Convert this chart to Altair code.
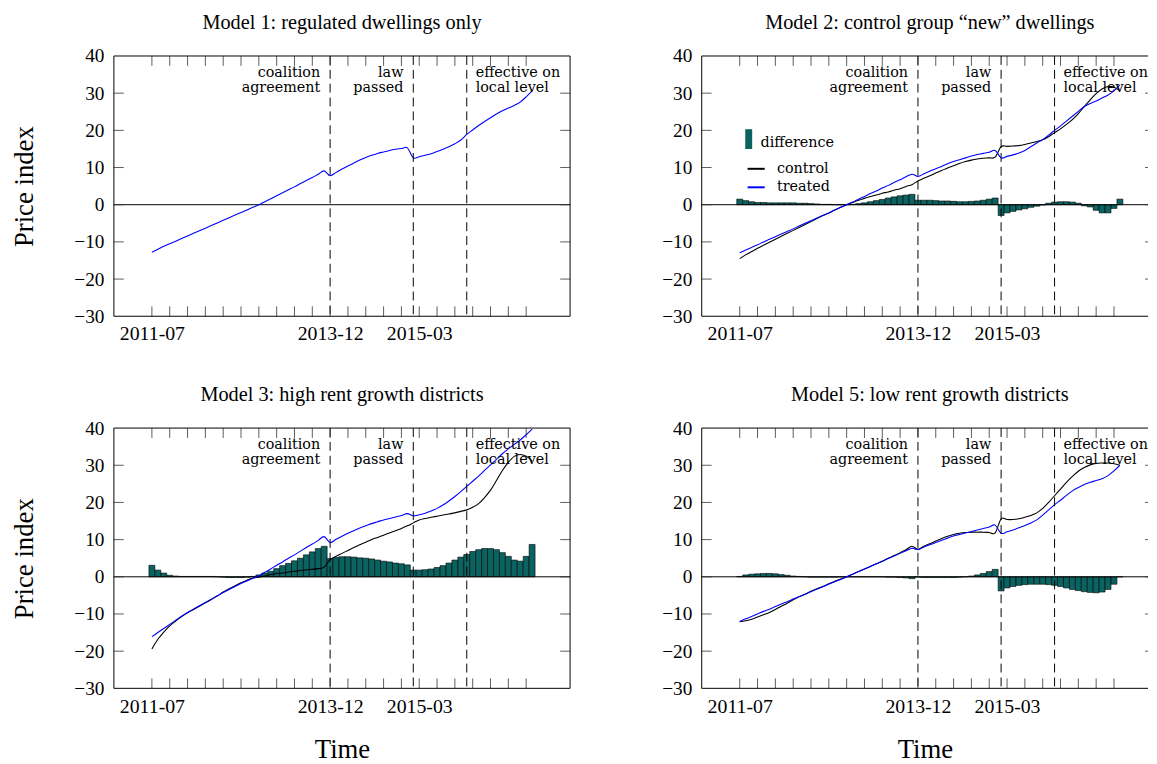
import altair as alt
import pandas as pd

# -----------------------------------------------------------------------------
# DATA (read off the figure, one value per month, month 0 = first observation)
# -----------------------------------------------------------------------------

months = list(range(65))

# Model 1: regulated dwellings only
m1_treated = [-12.8, -12.0, -11.2, -10.5, -9.8, -9.1, -8.4, -7.7, -7.0, -6.3,
              -5.6, -4.9, -4.2, -3.5, -2.8, -2.1, -1.4, -0.7, 0.0, 0.8,
              1.6, 2.4, 3.2, 4.0, 4.8, 5.7, 6.5, 7.3, 8.2, 9.1,
              7.8, 8.7, 9.6, 10.4, 11.2, 12.0, 12.7, 13.3, 13.8, 14.2,
              14.6, 14.9, 15.1, 15.3, 12.6, 12.9, 13.3, 13.7, 14.3, 14.9,
              15.6, 16.4, 17.4, 18.9, 20.1, 21.3, 22.4, 23.4, 24.4, 25.3,
              26.0, 26.7, 27.6, 29.0, 30.6]

# Model 2: control group "new" dwellings
m2_treated = [-12.9, -12.2, -11.5, -10.8, -10.0, -9.3, -8.6, -7.9, -7.2, -6.5,
              -5.7, -5.0, -4.3, -3.6, -2.9, -2.2, -1.4, -0.7, 0.0, 0.7,
              1.5, 2.2, 3.0, 3.7, 4.5, 5.2, 6.0, 6.7, 7.5, 8.2,
              7.6, 8.3, 9.0, 9.7, 10.3, 11.0, 11.6, 12.1, 12.6, 13.1,
              13.5, 13.8, 14.1, 14.6, 12.6, 13.0, 13.4, 13.9, 14.6, 15.6,
              16.6, 17.5, 18.7, 20.0, 21.2, 22.5, 23.8, 25.1, 26.4, 27.2,
              27.9, 28.7, 29.5, 30.6, 32.2]
m2_control = [-14.5, -13.5, -12.6, -11.7, -10.9, -10.1, -9.3, -8.5, -7.7, -6.9,
              -6.1, -5.3, -4.5, -3.7, -2.9, -2.2, -1.4, -0.7, 0.0, 0.6,
              1.2, 1.7, 2.2, 2.6, 3.1, 3.4, 3.9, 4.3, 4.9, 5.4,
              6.4, 7.1, 7.8, 8.5, 9.2, 9.9, 10.5, 11.1, 11.6, 12.0,
              12.3, 12.5, 12.6, 12.8, 15.6, 15.7, 15.8, 15.9, 16.2, 16.6,
              17.0, 17.5, 18.3, 19.4, 20.4, 21.6, 22.9, 24.5, 26.4, 28.2,
              29.9, 31.1, 31.8, 31.6, 30.7]
m2_diff = [1.5, 1.1, 0.8, 0.6, 0.6, 0.5, 0.5, 0.5, 0.5, 0.5,
           0.4, 0.4, 0.3, 0.2, 0.1, 0.1, 0.0, 0.0, 0.0, 0.1,
           0.3, 0.5, 0.8, 1.1, 1.4, 1.8, 2.1, 2.4, 2.6, 2.8,
           1.2, 1.2, 1.2, 1.1, 1.0, 1.0, 0.9, 0.8, 0.8, 0.9,
           1.0, 1.2, 1.5, 1.8, -2.9, -2.2, -1.8, -1.4, -1.1, -0.7,
           -0.4, -0.1, 0.4, 0.7, 0.8, 0.8, 0.7, 0.4, -0.3, -0.6,
           -1.5, -2.2, -2.2, -1.0, 1.5]

# Model 3: high rent growth districts
m3_treated = [-16.1, -15.0, -13.9, -12.8, -11.7, -10.6, -9.6, -8.7, -7.8, -6.9,
              -6.0, -5.1, -4.2, -3.4, -2.6, -1.8, -1.1, -0.4, 0.3, 1.2,
              2.1, 3.1, 4.0, 5.0, 5.9, 6.9, 7.9, 8.8, 9.8, 10.8,
              9.2, 10.1, 10.9, 11.7, 12.4, 13.1, 13.7, 14.3, 14.8, 15.3,
              15.7, 16.1, 16.5, 17.0, 16.4, 16.7, 17.1, 17.7, 18.4, 19.3,
              20.4, 21.6, 22.9, 24.3, 25.7, 27.1, 28.6, 30.1, 31.6, 33.1,
              34.4, 35.6, 36.8, 38.2, 39.7]
m3_control = [-19.4, -16.8, -14.9, -13.2, -11.9, -10.7, -9.7, -8.8, -7.9, -7.0,
              -6.1, -5.2, -4.1, -3.2, -2.4, -1.6, -0.9, -0.3, -0.1, 0.2,
              0.6, 0.9, 1.0, 1.3, 1.5, 1.7, 1.9, 2.0, 2.2, 2.6,
              4.6, 5.5, 6.3, 7.1, 7.9, 8.6, 9.3, 10.0, 10.6, 11.2,
              11.8, 12.4, 13.0, 13.7, 14.5, 15.3, 15.7, 16.0, 16.3, 16.6,
              16.9, 17.2, 17.6, 18.0, 18.7, 19.7, 21.3, 23.3, 25.9, 28.6,
              30.8, 32.4, 32.9, 32.4, 31.2]
m3_diff = [3.1, 1.8, 1.0, 0.4, 0.2, 0.1, 0.1, 0.1, 0.1, 0.1,
           0.1, 0.0, -0.1, -0.2, -0.2, -0.2, -0.1, 0.1, 0.5, 1.0,
           1.5, 2.2, 3.0, 3.6, 4.3, 5.0, 5.9, 6.7, 7.6, 8.2,
           4.9, 5.2, 5.4, 5.4, 5.3, 5.1, 5.0, 4.8, 4.5, 4.2,
           4.0, 3.7, 3.5, 3.2, 1.8, 1.8, 1.9, 2.1, 2.5, 3.0,
           3.7, 4.5, 5.3, 6.0, 6.8, 7.3, 7.6, 7.6, 7.3, 6.5,
           5.5, 4.5, 4.2, 5.5, 8.7]

# Model 5: low rent growth districts
m5_treated = [-12.0, -11.3, -10.7, -10.0, -9.3, -8.7, -8.0, -7.3, -6.7, -6.0,
              -5.3, -4.7, -4.0, -3.3, -2.7, -2.0, -1.3, -0.7, 0.0, 0.7,
              1.4, 2.1, 2.8, 3.5, 4.2, 4.9, 5.6, 6.3, 7.0, 7.7,
              7.3, 8.0, 8.6, 9.2, 9.8, 10.4, 11.0, 11.4, 11.8, 12.2,
              12.6, 13.0, 13.4, 13.9, 11.7, 12.1, 12.6, 13.2, 13.8, 14.5,
              15.3, 16.6, 18.0, 19.4, 20.6, 21.9, 23.1, 24.0, 24.8, 25.4,
              25.9, 26.4, 27.2, 28.5, 30.0]
m5_control = [-12.1, -11.8, -11.4, -10.8, -10.2, -9.6, -8.8, -7.9, -7.1, -6.2,
              -5.4, -4.7, -3.9, -3.2, -2.6, -1.9, -1.2, -0.6, 0.0, 0.7,
              1.4, 2.1, 2.8, 3.5, 4.2, 5.0, 5.7, 6.5, 7.3, 8.2,
              7.4, 8.2, 8.9, 9.6, 10.3, 10.9, 11.4, 11.7, 11.9, 12.0,
              12.0, 12.0, 11.9, 11.8, 15.6, 15.4, 15.4, 15.6, 16.0, 16.5,
              17.2, 18.4, 20.0, 21.8, 23.6, 25.4, 27.0, 28.4, 29.4, 30.1,
              30.5, 30.6, 30.6, 30.4, 30.0]
m5_diff = [0.1, 0.5, 0.7, 0.8, 0.9, 0.9, 0.8, 0.6, 0.4, 0.2,
           0.1, 0.0, -0.1, -0.1, -0.1, -0.1, -0.1, 0.0, 0.0, 0.0,
           0.0, 0.0, 0.0, 0.0, 0.0, -0.1, -0.1, -0.2, -0.3, -0.5,
           -0.1, -0.2, -0.2, -0.2, -0.2, -0.2, -0.2, -0.1, 0.0, 0.2,
           0.5, 0.9, 1.4, 2.0, -3.8, -3.0, -2.6, -2.3, -2.1, -2.0,
           -2.0, -2.0, -2.1, -2.3, -2.6, -3.0, -3.4, -3.7, -4.0, -4.2,
           -4.3, -4.1, -3.4, -2.0, 0.0]

# events (dashed lines) and their annotations
event_months = [30, 44, 53]
event_labels = ["coalition\nagreement", "law\npassed", "effective on\nlocal level"]
event_sides = ["right", "right", "left"]

# axis ticks
x_tick_values = [0, 30, 45]
x_tick_labels = ["2011-07", "2013-12", "2015-03"]
minor_tick_months = [0, 3, 6, 9, 12, 15, 18, 21, 24, 27, 30, 33, 36, 39, 42,
                     45, 48, 51, 54, 57, 60, 63]
y_tick_values = [-30, -20, -10, 0, 10, 20, 30, 40]
y_inner_ticks = [-20, -10, 0, 10, 20, 30]

# -----------------------------------------------------------------------------
# STYLE
# -----------------------------------------------------------------------------

W, H = 461, 263          # full panel
W_CUT = 451              # right-hand panels run off the page edge
PX_PER_MONTH = 6.003
X_MIN = -6.4
TEAL = "#0a6360"
SERIF = "Liberation Serif"
SMALL = "DejaVu Serif"
TICK_LEN = 10

y_scale = alt.Scale(domain=[-30, 40], nice=False, zero=False)

label_expr = " : ".join(
    f"datum.value == {v} ? '{t}'" for v, t in zip(x_tick_values, x_tick_labels)
) + " : ''"

one_row = pd.DataFrame({"k": [0]})


def make_panel(title, treated, control=None, diff=None, legend=False,
               y_title=None, x_title=None, cut=False):
    width = W_CUT if cut else W
    x_scale = alt.Scale(domain=[X_MIN, X_MIN + width / PX_PER_MONTH],
                        nice=False, zero=False)
    x_axis = alt.Axis(values=x_tick_values, labelExpr=label_expr, ticks=False,
                      tickSize=0, domain=False, grid=False, labelPadding=8,
                      labelFlush=False, labelOverlap=False, labelFont=SERIF,
                      labelFontSize=20, labelColor="black", titleFont=SERIF,
                      titleFontSize=27, titleFontWeight="normal",
                      titleColor="black", titlePadding=21)
    y_axis = alt.Axis(values=y_tick_values, ticks=False, tickSize=0,
                      domain=False, grid=False, labelPadding=10,
                      labelOverlap=False, labelFont=SERIF, labelFontSize=19.5,
                      labelColor="black", minExtent=46, maxExtent=46,
                      titleFont=SERIF, titleFontSize=27,
                      titleFontWeight="normal", titleColor="black",
                      titlePadding=30)

    def X(field):
        return alt.X(f"{field}:Q", scale=x_scale, axis=x_axis, title=x_title)

    def Y(field):
        return alt.Y(f"{field}:Q", scale=y_scale, axis=y_axis, title=y_title)

    layers = []

    # difference bars
    if diff is not None:
        bar_df = pd.DataFrame({"m": months, "d": diff, "series": "difference"})
        fill_legend = None
        if legend:
            fill_legend = alt.Legend(orient="none", legendX=37.5, legendY=78,
                                     title=None, padding=0,
                                     symbolType="M-0.35,-1.4H0.35V0.6H-0.35Z",
                                     symbolSize=400, symbolStrokeWidth=0,
                                     labelFont=SMALL, labelFontSize=14.5,
                                     labelColor="black", labelOffset=2)
        bars = alt.Chart(bar_df).mark_bar(stroke="black", strokeWidth=0.6).encode(
            x=X("x0"),
            x2="x1:Q",
            y=Y("d"),
            y2=alt.datum(0),
            fill=alt.Fill("series:N",
                          scale=alt.Scale(domain=["difference"], range=[TEAL]),
                          legend=fill_legend),
        ).transform_calculate(x0="datum.m - 0.5", x1="datum.m + 0.5")
        layers.append(bars)

    # zero line
    zero = alt.Chart(pd.DataFrame({"v": [0]})).mark_rule(
        color="black", strokeWidth=1).encode(y=Y("v"))
    layers.append(zero)

    # price index lines
    series = []
    if control is not None:
        series.append(("control", control))
    series.append(("treated", treated))
    line_df = pd.DataFrame([{"m": m, "v": v, "series": name}
                            for name, vals in series
                            for m, v in zip(months, vals)])
    color_legend = None
    if legend:
        color_legend = alt.Legend(orient="none", legendX=45, legendY=104,
                                  title=None, padding=0, symbolType="stroke",
                                  symbolSize=300, symbolStrokeWidth=2,
                                  labelFont=SMALL, labelFontSize=14.5,
                                  labelColor="black", labelOffset=11,
                                  rowPadding=1.7)
    lines = alt.Chart(line_df).mark_line(strokeWidth=1.1, interpolate="cardinal").encode(
        x=X("m"),
        y=Y("v"),
        color=alt.Color("series:N",
                        scale=alt.Scale(domain=["control", "treated"],
                                        range=["black", "blue"]),
                        legend=color_legend),
    )
    layers.append(lines)

    # event lines and labels
    ev_df = pd.DataFrame({"m": event_months, "label": event_labels, "side": event_sides})
    layers.append(alt.Chart(ev_df).mark_rule(
        color="black", strokeWidth=1, strokeDash=[9, 5]).encode(x=X("m")))
    for side, dx in (("right", -10), ("left", 9)):
        layers.append(
            alt.Chart(ev_df[ev_df["side"] == side]).mark_text(
                align=side, dx=dx, baseline="alphabetic", lineBreak="\n",
                lineHeight=15.5, font=SMALL, fontSize=14.5, color="black"
            ).encode(x=X("m"), y=alt.value(21), text="label:N")
        )

    # inward ticks (only their stubs show on the cut-off right edge)
    tick_df = pd.DataFrame({"m": minor_tick_months})
    ytick_df = pd.DataFrame({"v": y_inner_ticks})
    tick_style = dict(color="#333333", strokeWidth=0.8)
    right_len = 3 if cut else TICK_LEN
    layers.append(alt.Chart(tick_df).mark_rule(**tick_style).encode(
        x=X("m"), y=alt.value(0), y2=alt.value(TICK_LEN)))
    layers.append(alt.Chart(tick_df).mark_rule(**tick_style).encode(
        x=X("m"), y=alt.value(H - TICK_LEN), y2=alt.value(H)))
    layers.append(alt.Chart(ytick_df).mark_rule(**tick_style).encode(
        y=Y("v"), x=alt.value(0), x2=alt.value(TICK_LEN)))
    layers.append(alt.Chart(ytick_df).mark_rule(**tick_style).encode(
        y=Y("v"), x=alt.value(width - right_len), x2=alt.value(width)))

    # frame (the right-hand panels are cut by the page edge, so no right side)
    frame = dict(color="black", strokeWidth=1)
    layers.append(alt.Chart(one_row).mark_rule(**frame).encode(
        x=alt.value(0), x2=alt.value(width), y=alt.value(0)))
    layers.append(alt.Chart(one_row).mark_rule(**frame).encode(
        x=alt.value(0), x2=alt.value(width), y=alt.value(H)))
    layers.append(alt.Chart(one_row).mark_rule(**frame).encode(
        x=alt.value(0), y=alt.value(0), y2=alt.value(H)))
    if not cut:
        layers.append(alt.Chart(one_row).mark_rule(**frame).encode(
            x=alt.value(width), y=alt.value(0), y2=alt.value(H)))

    return alt.layer(*layers).properties(
        width=width,
        height=H,
        title=alt.TitleParams(text=title, font=SERIF, fontSize=20.5,
                              fontWeight="normal", color="black",
                              baseline="alphabetic", offset=-3.5,
                              anchor="middle", dx=(W - width) / 2),
    )


p1 = make_panel("Model 1: regulated dwellings only", m1_treated,
                y_title="Price index")
p2 = make_panel("Model 2: control group \u201cnew\u201d dwellings", m2_treated,
                m2_control, m2_diff, legend=True, cut=True)
p3 = make_panel("Model 3: high rent growth districts", m3_treated, m3_control,
                m3_diff, y_title="Price index", x_title="Time")
p4 = make_panel("Model 5: low rent growth districts", m5_treated, m5_control,
                m5_diff, x_title="Time", cut=True)

chart = alt.concat(
    p1, p2, p3, p4, columns=2, spacing={"row": 40, "column": 85}
).resolve_scale(
    color="independent", fill="independent"
).resolve_legend(
    color="independent", fill="independent"
).properties(
    padding={"left": 2, "top": 0.5, "right": 0, "bottom": 0}
).configure(
    font=SERIF, background="white"
).configure_view(
    stroke="transparent"
)

chart.save("out.html", embed_options={"renderer": "svg", "actions": False})
